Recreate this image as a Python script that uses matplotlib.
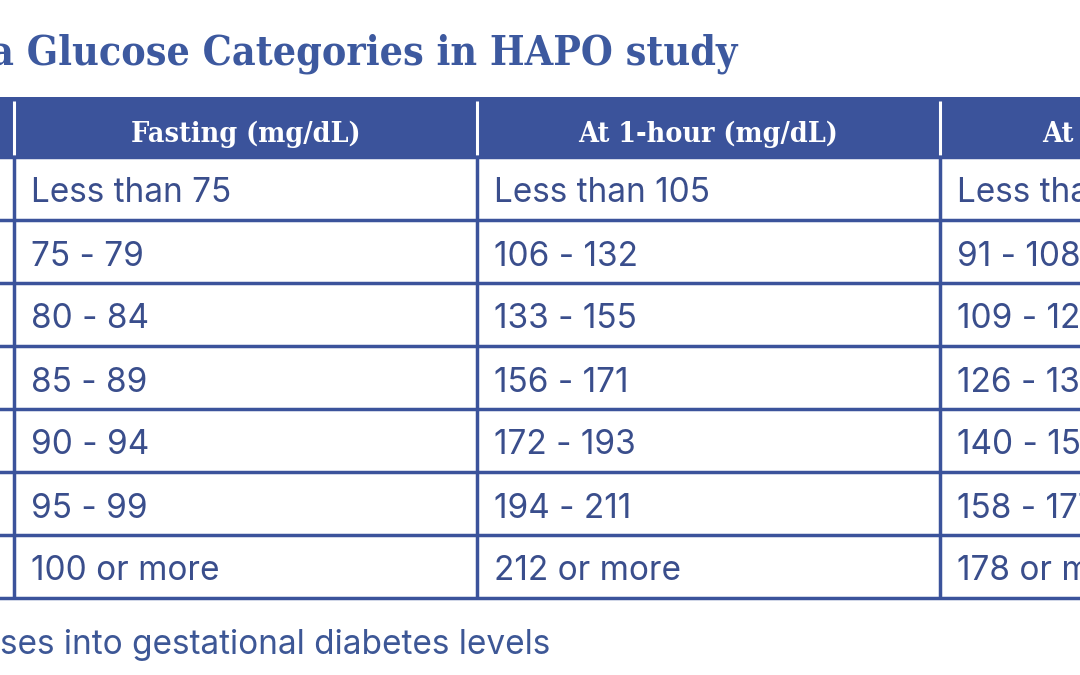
import matplotlib
matplotlib.use("Agg")
import matplotlib.pyplot as plt
from matplotlib.patches import Rectangle

# ---- data -------------------------------------------------------------
TITLE = "Plasma Glucose Categories in HAPO study"
FOOTNOTE = "ses into gestational diabetes levels"
COL_HEADERS = ["Fasting (mg/dL)", "At 1-hour (mg/dL)", "At 2-hour (mg/dL)"]
FASTING = ["Less than 75", "75 - 79", "80 - 84", "85 - 89", "90 - 94",
           "95 - 99", "100 or more"]
ONE_HOUR = ["Less than 105", "106 - 132", "133 - 155", "156 - 171",
            "172 - 193", "194 - 211", "212 or more"]
TWO_HOUR = ["Less than 90", "91 - 108", "109 - 125", "126 - 139",
            "140 - 157", "158 - 177", "178 or more"]

# ---- layout (pixels) ---------------------------------------------------
W, H = 1080, 675
BLUE = "#3b539b"
TEXT_BLUE = "#3a4e8c"
COL_X = [14, 477, 940]
COL_W = 463
HEADER_TOP, HEADER_BOT = 97, 157
ROW_H = 63.0
PAD = 17

fig = plt.figure(figsize=(W / 100, H / 100), dpi=100)
ax = fig.add_axes([0, 0, 1, 1])
ax.set_xlim(0, W)
ax.set_ylim(H, 0)
ax.axis("off")

# title (its start is cropped off at the left edge, as in the source)
ax.text(737, 64, TITLE, ha="right", va="baseline", color="#3d599f",
        fontsize=29.4, fontweight="bold", family="DejaVu Serif",
        fontstretch="condensed")

# header band
ax.add_patch(Rectangle((-10, HEADER_TOP), W + 20, HEADER_BOT - HEADER_TOP,
                       color=BLUE, lw=0))
for x0, label in zip(COL_X, COL_HEADERS):
    ax.plot([x0, x0], [HEADER_TOP + 4, HEADER_BOT - 2], color="white", lw=2.2,
            solid_capstyle="butt")
    ax.text(x0 + COL_W / 2, 142, label, ha="center", va="baseline",
            color="white", fontsize=20.5, fontweight="bold",
            family="DejaVu Serif", fontstretch="condensed")

# body
columns = [FASTING, ONE_HOUR, TWO_HOUR]
n_rows = len(FASTING)
bottom = HEADER_BOT + n_rows * ROW_H
for i in range(n_rows + 1):
    y = HEADER_BOT + i * ROW_H
    ax.plot([-10, W + 10], [y, y], color=BLUE, lw=2.5, solid_capstyle="butt")
for x0 in COL_X:
    ax.plot([x0, x0], [HEADER_BOT, bottom], color=BLUE, lw=2.5,
            solid_capstyle="butt")

for x0, values in zip(COL_X, columns):
    for i, v in enumerate(values):
        yc = HEADER_BOT + (i + 0.5) * ROW_H
        ax.text(x0 + PAD, yc + 14, v, ha="left", va="baseline",
                color=TEXT_BLUE, fontsize=24, family="Inter")

# footnote (cropped at the left edge, as in the source)
ax.text(0, 654, FOOTNOTE, ha="left", va="baseline", color="#3d5796",
        fontsize=24, family="Inter")

fig.savefig("out.png", dpi=100)
